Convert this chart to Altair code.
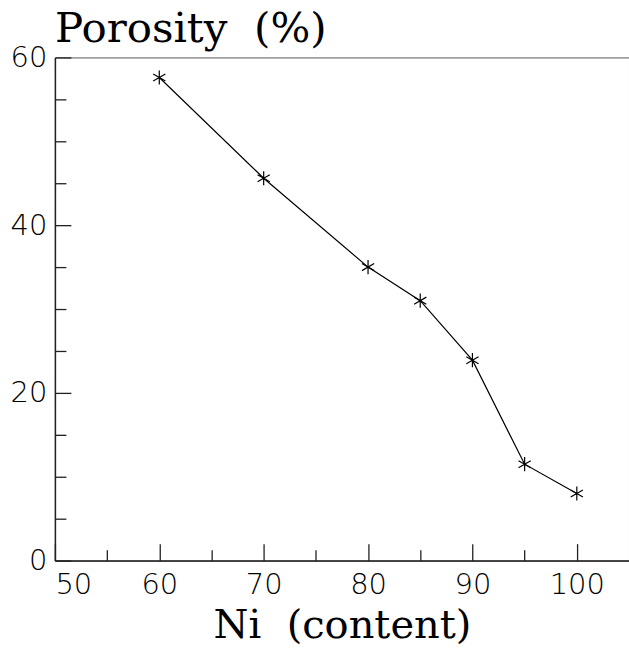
import altair as alt
import pandas as pd

# Porosity of the sintered samples against nickel content
ni_content = [60, 70, 80, 85, 90, 95, 100]
porosity = [57.6, 45.6, 35.0, 31.0, 23.9, 11.5, 8.0]

x_major = [50, 60, 70, 80, 90, 100]
x_minor = [55, 65, 75, 85, 95]
y_major = [0, 20, 40, 60]
y_minor = [v for v in range(5, 60, 5) if v % 20 != 0]

df = pd.DataFrame({"ni": ni_content, "porosity": porosity})

x_scale = alt.Scale(domain=[50, 105], nice=False, zero=False)
y_scale = alt.Scale(domain=[0, 60], nice=False)

LABEL_FONT = "DejaVu Sans"
TITLE_FONT = "DejaVu Serif"
AXIS_COLOR = "#222222"
GAP = " \u00a0"

# asterisk marker: one vertical stroke and two diagonals
ASTERISK = "M0,-1L0,1M-0.866,-0.5L0.866,0.5M-0.866,0.5L0.866,-0.5"

base = alt.Chart(df)


def tick_axis(orient, values, length):
    """Axis that draws only ticks, pushed inside the plot area."""
    return alt.Axis(
        orient=orient,
        values=values,
        labels=False,
        domain=False,
        grid=False,
        tickSize=length,
        offset=-length,
        tickColor=AXIS_COLOR,
        tickWidth=1.3,
        title=None,
    )


# line with the labelled axes
line = base.mark_line(color="black", strokeWidth=1.2).encode(
    x=alt.X(
        "ni:Q",
        scale=x_scale,
        axis=alt.Axis(
            orient="bottom",
            values=x_major,
            ticks=False,
            tickSize=0,
            labelPadding=10,
            labelFont=LABEL_FONT,
            labelFontSize=29,
            labelFontWeight=200,
            labelColor="black",
            domainColor=AXIS_COLOR,
            domainWidth=1.5,
            grid=False,
            title="Ni" + GAP + "(content)",
            titleFont=TITLE_FONT,
            titleFontSize=40,
            titleFontWeight="normal",
            titleColor="black",
            titlePadding=6,
        ),
    ),
    y=alt.Y(
        "porosity:Q",
        scale=y_scale,
        axis=alt.Axis(
            orient="left",
            values=y_major,
            ticks=False,
            tickSize=0,
            labelPadding=8,
            labelFont=LABEL_FONT,
            labelFontSize=29,
            labelFontWeight=200,
            labelColor="black",
            domainColor=AXIS_COLOR,
            domainWidth=1.5,
            grid=False,
            title=None,
        ),
    ),
)

# asterisk markers carrying the long inward ticks
points = base.mark_point(
    shape=ASTERISK, size=200, color="black", strokeWidth=1.2, filled=False, opacity=1
).encode(
    x=alt.X("ni:Q", scale=x_scale, axis=tick_axis("bottom", x_major, 17)),
    y=alt.Y("porosity:Q", scale=y_scale, axis=tick_axis("left", y_major, 16)),
)

# hidden layer carrying the short inward ticks
minor = base.mark_point(opacity=0).encode(
    x=alt.X("ni:Q", scale=x_scale, axis=tick_axis("bottom", x_minor, 11)),
    y=alt.Y("porosity:Q", scale=y_scale, axis=tick_axis("left", y_minor, 11)),
)

chart = (
    alt.layer(line, points, minor)
    .resolve_axis(x="independent", y="independent")
    .properties(
        width=575,
        height=504,
        autosize=alt.AutoSizeParams(type="none"),
        padding={"left": 55, "top": 57, "right": 0, "bottom": 88},
        background="white",
        title=alt.TitleParams(
            "Porosity" + GAP + "(%)",
            anchor="start",
            frame="group",
            font=TITLE_FONT,
            fontSize=42,
            fontWeight="normal",
            color="black",
            offset=-8,
        ),
    )
    .configure_view(stroke="#555555", strokeWidth=1)
)

chart.save("out.html", embed_options={"renderer": "svg", "actions": False})
